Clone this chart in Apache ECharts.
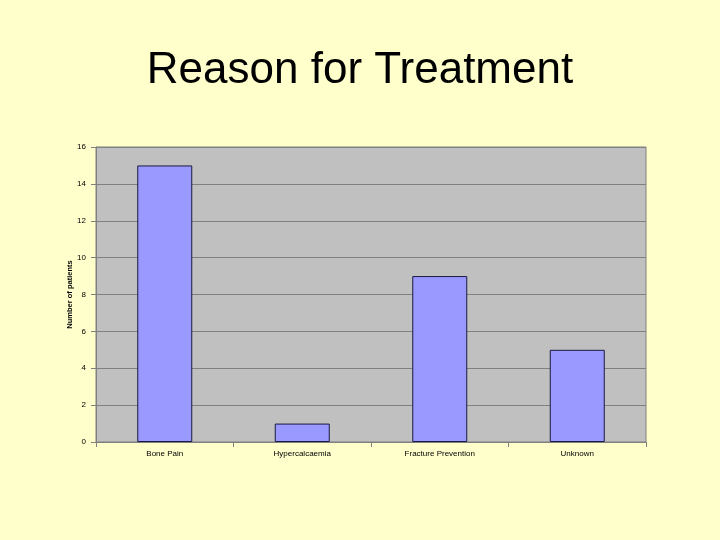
<!DOCTYPE html>
<html><head><meta charset="utf-8">
<script src="https://cdn.jsdelivr.net/npm/echarts@6/dist/echarts.min.js"></script>
<style>html,body{margin:0;padding:0;background:#FFFFCC;}#c{width:720px;height:540px;}</style>
</head><body><div id="c"></div>
<script>
const categories = ["Bone Pain", "Hypercalcaemia", "Fracture Prevention", "Unknown"];
const patients = [15, 1, 9, 5];
const yTicks = [0, 2, 4, 6, 8, 10, 12, 14, 16];

const chart = echarts.init(document.getElementById('c'));
chart.setOption({
  backgroundColor: '#FFFFCC',
  animation: false,
  title: {
    text: 'Reason for Treatment',
    left: 'center', top: 44,
    textStyle: {fontFamily: 'Liberation Sans, Arial', fontSize: 44, fontWeight: 'normal', color: '#000'}
  },
  grid: {left: 96, right: 74, top: 147, bottom: 98, backgroundColor: '#C0C0C0', show: true, borderColor: '#808080', borderWidth: 1},
  xAxis: {
    type: 'category', data: categories,
    axisLine: {lineStyle: {color: '#808080'}},
    axisTick: {show: true, lineStyle: {color: '#808080'}},
    axisLabel: {fontFamily: 'Liberation Sans, Arial', fontSize: 8, color: '#000', margin: 8}
  },
  yAxis: {
    type: 'value', min: 0, max: 16, interval: 2,
    name: 'Number of patients', nameLocation: 'middle', nameGap: 22, nameRotate: 90,
    nameMoveOverlap: false,
    nameTextStyle: {fontFamily: 'Liberation Sans, Arial', fontSize: 7.5, fontWeight: 'bold', color: '#000'},
    axisLine: {show: true, lineStyle: {color: '#808080'}},
    axisTick: {show: true, lineStyle: {color: '#808080'}},
    axisLabel: {fontFamily: 'Liberation Sans, Arial', fontSize: 8, color: '#000', margin: 10,
      formatter: v => yTicks.includes(v) ? String(v) : ''},
    splitLine: {lineStyle: {color: '#808080', width: 1}}
  },
  series: [{
    type: 'bar', data: patients, barWidth: '40%',
    itemStyle: {color: '#9999FF', borderColor: '#1a1a40', borderWidth: 1}
  }]
});
</script></body></html>
